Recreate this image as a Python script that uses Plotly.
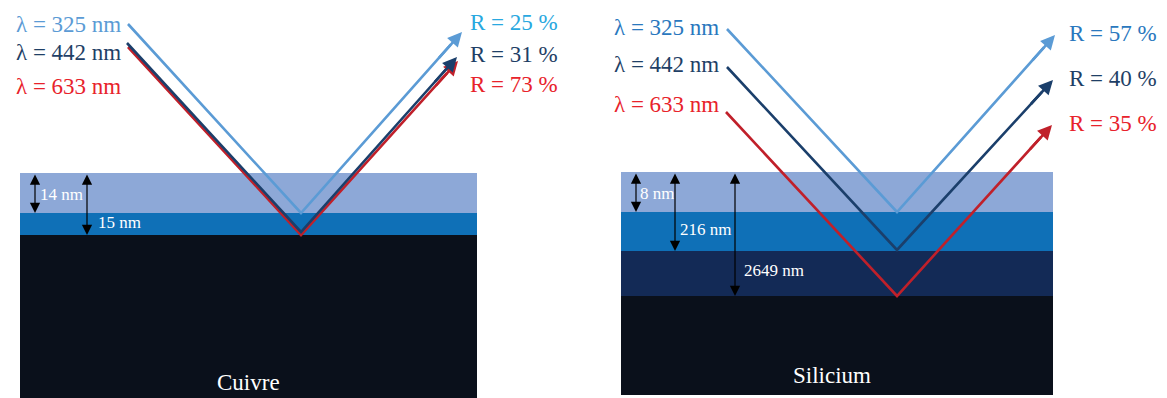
import plotly.graph_objects as go

W, H = 1167, 398

# ---- data ----
panels = ["Cuivre", "Silicium"]
wavelengths = ["325", "442", "633"]
refl_cuivre = [25, 31, 73]
refl_silicium = [57, 40, 35]
thick_cuivre = ["14 nm", "15 nm"]
thick_silicium = ["8 nm", "216 nm", "2649 nm"]

# panel geometry (pixels)
panel_x = [(20, 477), (621, 1053)]
panel_bottom = [398, 395]
layer_bounds = [[173, 213, 235], [172, 212, 251, 296]]
layer_colors = [["#8DA8D7", "#0F70B7", "#0A101B"],
                ["#8DA8D7", "#0F70B7", "#132A56", "#0A101B"]]

ray_colors = [["#5B9BD5", "#1B3F6B", "#C0202A"], ["#5B9BD5", "#1B3F6B", "#C0202A"]]
lab_colors = [["#5B9BD5", "#1F3F66", "#E8222B"], ["#2A78BE", "#1F3F66", "#E8222B"]]
r_colors = [["#29A8E0", "#1F3F66", "#E8222B"], ["#2A78BE", "#1F3F66", "#E8222B"]]

# ray endpoints: start, vertex, tip
ray_start = [[(128, 24), (127, 43), (128, 47)], [(727, 29), (727, 67), (726, 112)]]
ray_vertex = [[(301, 213), (301, 232), (301, 235)], [(897, 212), (897, 250), (897, 296)]]
ray_tip = [[(462, 32), (457, 57), (458, 61)], [(1055, 35), (1053, 80), (1052, 125)]]
lab_y = [[24, 52, 86], [27, 64, 104]]
lab_x = [123, 721]
r_x = [468, 1067]
r_y = [[22, 54, 84], [33, 78, 123]]

dim_x = [[35, 87], [636, 675, 735]]
dim_lab = [[(38, 194), (96, 222)], [(638, 193), (678, 229), (742, 270)]]
panel_lab = [(248, 382), (832, 375)]

SERIF = "Liberation Serif, Tinos, Times New Roman, DejaVu Serif, serif"

fig = go.Figure()
shapes = []
annotations = []

for p in range(2):
    x0, x1 = panel_x[p]
    bounds = layer_bounds[p] + [panel_bottom[p]]
    for i, col in enumerate(layer_colors[p]):
        shapes.append(dict(type="rect", xref="x", yref="y", x0=x0, x1=x1,
                           y0=bounds[i], y1=bounds[i + 1],
                           fillcolor=col, line=dict(width=0), layer="below"))
    # dimension arrows
    thick = thick_cuivre if p == 0 else thick_silicium
    for j, t in enumerate(thick):
        annotations.append(dict(x=dim_x[p][j], y=bounds[j + 1], ax=dim_x[p][j], ay=bounds[0],
                                xref="x", yref="y", axref="x", ayref="y", text="",
                                showarrow=True, arrowhead=2, arrowside="end+start",
                                arrowsize=1.7, arrowwidth=1.2, arrowcolor="#000000",
                                standoff=0, startstandoff=0))
        annotations.append(dict(x=dim_lab[p][j][0], y=dim_lab[p][j][1], xref="x", yref="y",
                                text=t, showarrow=False, xanchor="left", yanchor="middle",
                                font=dict(family=SERIF, size=17, color="#FFFFFF")))
    annotations.append(dict(x=panel_lab[p][0], y=panel_lab[p][1], xref="x", yref="y",
                            text=panels[p], showarrow=False, xanchor="center", yanchor="middle",
                            font=dict(family=SERIF, size=23, color="#FFFFFF")))
    refl = refl_cuivre if p == 0 else refl_silicium
    order = [2, 1, 0]
    for k in order:
        s, v, t = ray_start[p][k], ray_vertex[p][k], ray_tip[p][k]
        fx = v[0] + (t[0] - v[0]) * 0.93
        fy = v[1] + (t[1] - v[1]) * 0.93
        fig.add_trace(go.Scatter(x=[s[0], v[0], fx], y=[s[1], v[1], fy], mode="lines",
                                 line=dict(color=ray_colors[p][k], width=2.6),
                                 hoverinfo="skip", showlegend=False))
        annotations.append(dict(x=t[0], y=t[1], ax=v[0] + (t[0] - v[0]) * 0.85,
                                ay=v[1] + (t[1] - v[1]) * 0.85,
                                xref="x", yref="y", axref="x", ayref="y", text="",
                                showarrow=True, arrowhead=2, arrowsize=1.1, arrowwidth=2.6,
                                arrowcolor=ray_colors[p][k], standoff=0))
    for k in range(3):
        annotations.append(dict(x=lab_x[p], y=lab_y[p][k], xref="x", yref="y",
                                text="λ = " + wavelengths[k] + " nm", showarrow=False,
                                xanchor="right", yanchor="middle",
                                font=dict(family=SERIF, size=23, color=lab_colors[p][k])))
        annotations.append(dict(x=r_x[p], y=r_y[p][k], xref="x", yref="y",
                                text="R = %d %%" % refl[k], showarrow=False,
                                xanchor="left", yanchor="middle",
                                font=dict(family=SERIF, size=23, color=r_colors[p][k])))

fig.update_layout(width=W, height=H, margin=dict(l=0, r=0, t=0, b=0),
                  paper_bgcolor="white", plot_bgcolor="white",
                  shapes=shapes, annotations=annotations,
                  xaxis=dict(range=[0, W], visible=False, fixedrange=True),
                  yaxis=dict(range=[H, 0], visible=False, fixedrange=True))
fig.write_html("out.html", config={"displayModeBar": False},
               post_script="document.body.style.margin='0';document.body.style.overflow='hidden';")
